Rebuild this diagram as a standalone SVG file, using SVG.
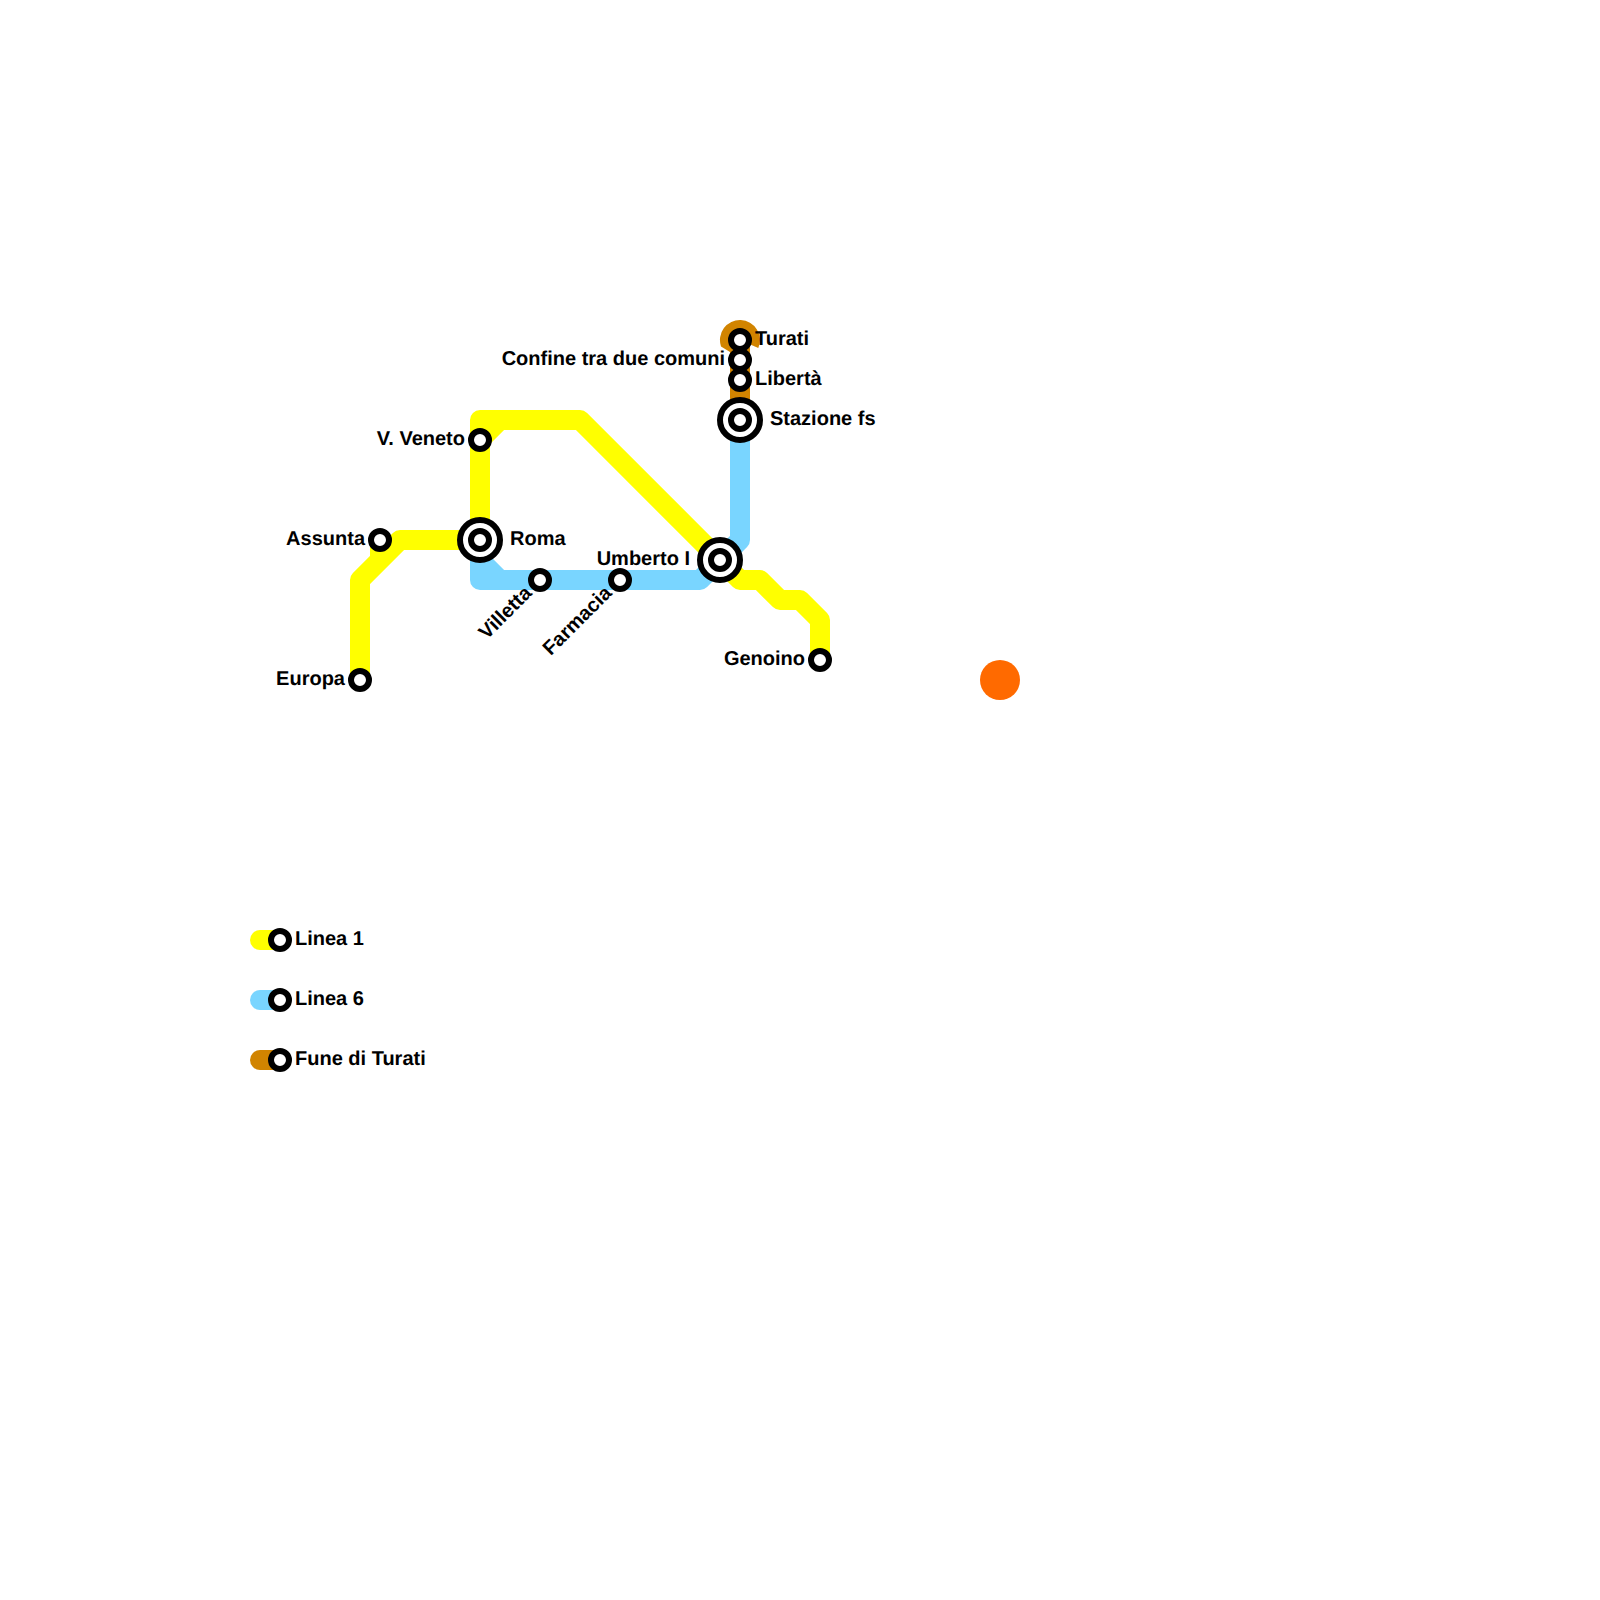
<svg xmlns="http://www.w3.org/2000/svg" width="1600" height="1600" viewBox="0 0 1600 1600">
<style>
.l{fill:none;stroke-width:20;stroke-linejoin:round;stroke-linecap:butt}
.c{stroke-linecap:round}
.y{stroke:#ffff00}.b{stroke:#79d5ff}.f{stroke:#d18400}
.s{fill:#fff;stroke:#000;stroke-width:6}
.t{font-family:"Liberation Sans",Arial,sans-serif;font-weight:bold;font-size:20px;fill:#000;text-rendering:geometricPrecision}
.e{text-anchor:end}
</style>
<rect width="1600" height="1600" fill="#fff"/>
<g id="connectors">
<path class="l b" d="M740 420V540L700 580H480V540M480 560L500 580"/>
<path class="l f" d="M740 340V420"/>
<path fill="#d18400" d="M721 346.5A20 20 0 1 1 758.3 348L740 340L730 352Z"/>
<path class="l y" d="M360 680V580L400 540H480V420H580L720 560L740 580H760L780 600H800L820 620V660M480 440L500 420M380 540V560"/>
<path class="l y c" d="M260 940H280"/>
<path class="l b c" d="M260 1000H280"/>
<path class="l f c" d="M260 1060H280"/>
</g>
<g id="turati"><circle class="s" cx="740" cy="340" r="9"/><text class="t" x="755" y="344.6">Turati</text></g>
<g id="confine"><circle class="s" cx="740" cy="360" r="9"/><text class="t e" x="725" y="364.6">Confine tra due comuni</text></g>
<g id="liberta"><circle class="s" cx="740" cy="380" r="9"/><text class="t" x="755" y="384.6">Libertà</text></g>
<g id="stazione"><circle class="s" cx="740" cy="420" r="20"/><circle class="s" cx="740" cy="420" r="9"/><text class="t" x="770" y="424.6">Stazione fs</text></g>
<g id="veneto"><circle class="s" cx="480" cy="440" r="9"/><text class="t e" x="465" y="444.6">V. Veneto</text></g>
<g id="assunta"><circle class="s" cx="380" cy="540" r="9"/><text class="t e" x="365" y="544.6">Assunta</text></g>
<g id="roma"><circle class="s" cx="480" cy="540" r="20"/><circle class="s" cx="480" cy="540" r="9"/><text class="t" x="510" y="544.6">Roma</text></g>
<g id="europa"><circle class="s" cx="360" cy="680" r="9"/><text class="t e" x="345" y="684.6">Europa</text></g>
<g id="villetta"><circle class="s" cx="540" cy="580" r="9"/><text class="t e" transform="rotate(-45 530 590)" x="529" y="595">Villetta</text></g>
<g id="farmacia"><circle class="s" cx="620" cy="580" r="9"/><text class="t e" transform="rotate(-45 610 590)" x="609" y="595">Farmacia</text></g>
<g id="umberto"><circle class="s" cx="720" cy="560" r="20"/><circle class="s" cx="720" cy="560" r="9"/><text class="t e" x="690" y="564.6">Umberto I</text></g>
<g id="genoino"><circle class="s" cx="820" cy="660" r="9"/><text class="t e" x="805" y="664.6">Genoino</text></g>
<g id="orange"><circle cx="1000" cy="680" r="20" fill="#ff6a00"/></g>
<g id="legend1"><circle class="s" cx="280" cy="940" r="9"/><text class="t" x="295" y="944.6">Linea 1</text></g>
<g id="legend6"><circle class="s" cx="280" cy="1000" r="9"/><text class="t" x="295" y="1004.6">Linea 6</text></g>
<g id="legendf"><circle class="s" cx="280" cy="1060" r="9"/><text class="t" x="295" y="1064.6">Fune di Turati</text></g>
</svg>
